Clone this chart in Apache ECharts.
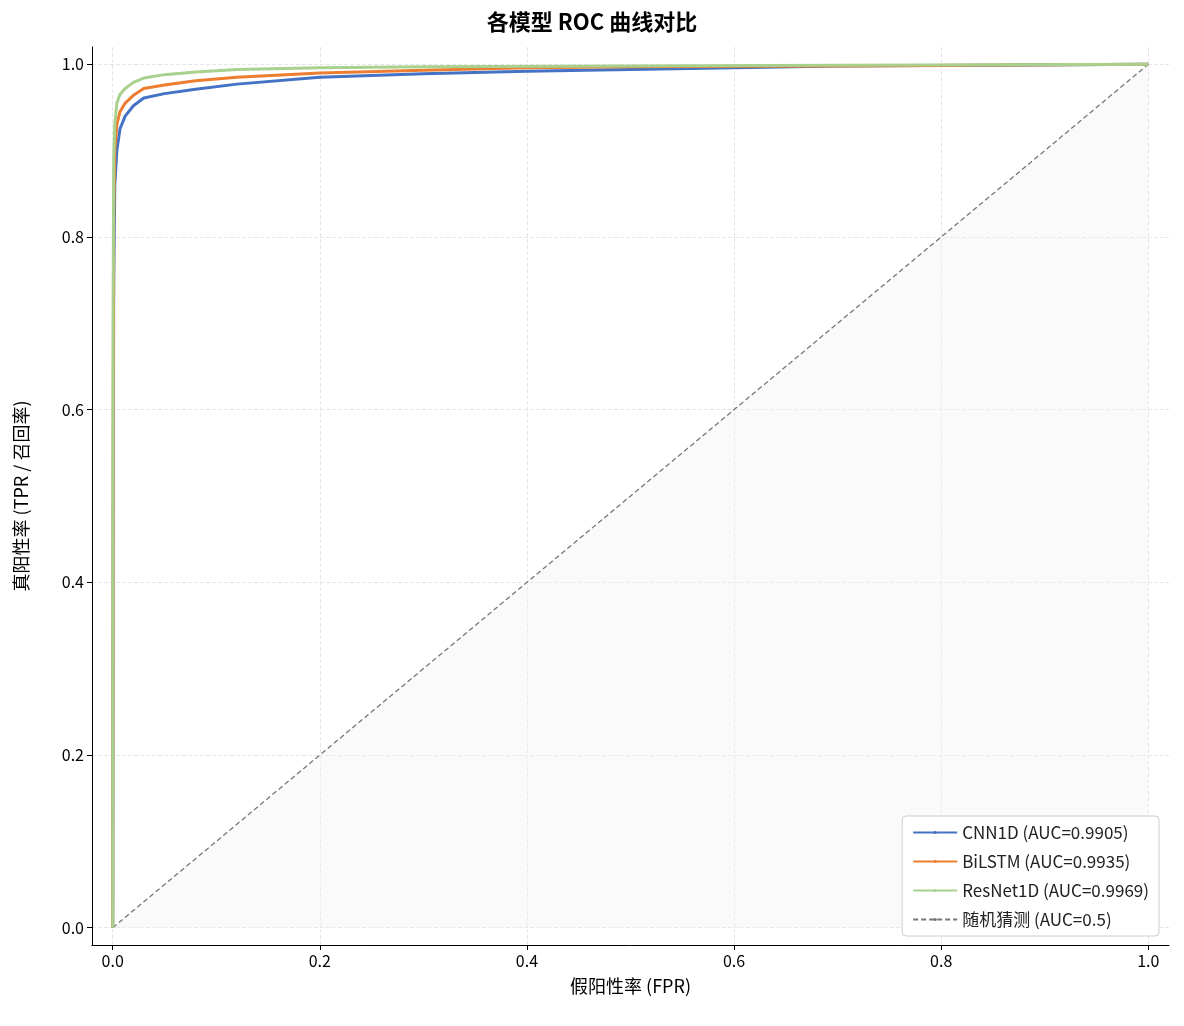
<!DOCTYPE html><html><head><meta charset="utf-8"><script src="https://cdn.jsdelivr.net/npm/echarts@6/dist/echarts.min.js"></script></head><body style="margin:0"><div id="c" style="width:1184px;height:1026px"></div><script>
const cnn=[[0,0],[0.0005,0.5],[0.001,0.75],[0.002,0.86],[0.004,0.9],[0.007,0.925],[0.012,0.94],[0.02,0.952],[0.03,0.961],[0.05,0.966],[0.08,0.971],[0.12,0.977],[0.2,0.985],[0.3,0.989],[0.4,0.992],[0.5,0.994],[0.6,0.996],[0.7,0.998],[0.85,0.999],[1,1]];
const bilstm=[[0,0],[0.0005,0.6],[0.001,0.82],[0.002,0.9],[0.004,0.93],[0.007,0.945],[0.012,0.955],[0.02,0.964],[0.03,0.972],[0.05,0.976],[0.08,0.981],[0.12,0.985],[0.2,0.99],[0.3,0.993],[0.4,0.996],[0.5,0.997],[0.7,0.998],[1,1]];
const resnet=[[0,0],[0.0003,0.7],[0.001,0.89],[0.002,0.93],[0.004,0.955],[0.007,0.965],[0.012,0.972],[0.02,0.979],[0.03,0.984],[0.05,0.988],[0.08,0.991],[0.12,0.994],[0.2,0.996],[0.3,0.997],[0.5,0.998],[0.7,0.999],[1,1]];
const diag=[[0,0],[1,1]];
const ticks=[0,0.2,0.4,0.6,0.8,1];
const F='"Noto Sans CJK SC", sans-serif';
const ch=echarts.init(document.getElementById('c'));
const ln=(n,d,c)=>({name:n,type:'line',data:d,symbol:'none',lineStyle:{color:c,width:3},itemStyle:{color:c}});
ch.setOption({
textStyle:{fontFamily:F},
title:{text:'各模型 ROC 曲线对比',left:'center',top:6,textStyle:{fontSize:22,fontWeight:'bold',color:'#000',fontFamily:F}},
grid:{left:92,right:15,top:47,bottom:81},
xAxis:{type:'value',min:-0.02,max:1.02,name:'假阳性率 (FPR)',nameLocation:'middle',nameGap:32,nameTextStyle:{fontSize:18,color:'#000'},
 axisLine:{show:true,onZero:false,lineStyle:{color:'#000'}},axisTick:{show:true,customValues:ticks,lineStyle:{color:'#000'}},
 axisLabel:{fontSize:16,color:'#000',customValues:ticks,formatter:v=>v.toFixed(1)},
 splitLine:{show:true,lineStyle:{type:'dashed',color:'#e6e6e6'}}},
yAxis:{type:'value',min:-0.02,max:1.02,name:'真阳性率 (TPR / 召回率)',nameLocation:'middle',nameGap:62,nameTextStyle:{fontSize:18,color:'#000'},
 axisLine:{show:true,onZero:false,lineStyle:{color:'#000'}},axisTick:{show:true,customValues:ticks,lineStyle:{color:'#000'}},
 axisLabel:{fontSize:16,color:'#000',customValues:ticks,formatter:v=>v.toFixed(1)},
 splitLine:{show:true,lineStyle:{type:'dashed',color:'#e6e6e6'}}},
legend:{orient:'vertical',right:25,bottom:90,backgroundColor:'#fff',borderColor:'#ccc',borderWidth:1,borderRadius:4,padding:[8,10],itemGap:12,itemWidth:44,itemHeight:4,
 textStyle:{fontSize:17,color:'#222'},data:['CNN1D (AUC=0.9905)','BiLSTM (AUC=0.9935)','ResNet1D (AUC=0.9969)','随机猜测 (AUC=0.5)']},
series:[
 {name:'随机猜测 (AUC=0.5)',type:'line',data:diag,symbol:'none',z:1,lineStyle:{color:'#777',width:1.3,type:[5,3]},itemStyle:{color:'#777'},areaStyle:{color:'#f2f2f2',opacity:0.4}},
 ln('CNN1D (AUC=0.9905)',cnn,'#4472c4'),ln('BiLSTM (AUC=0.9935)',bilstm,'#ed7d31'),ln('ResNet1D (AUC=0.9969)',resnet,'#a9d18e')]
});
</script></body></html>
